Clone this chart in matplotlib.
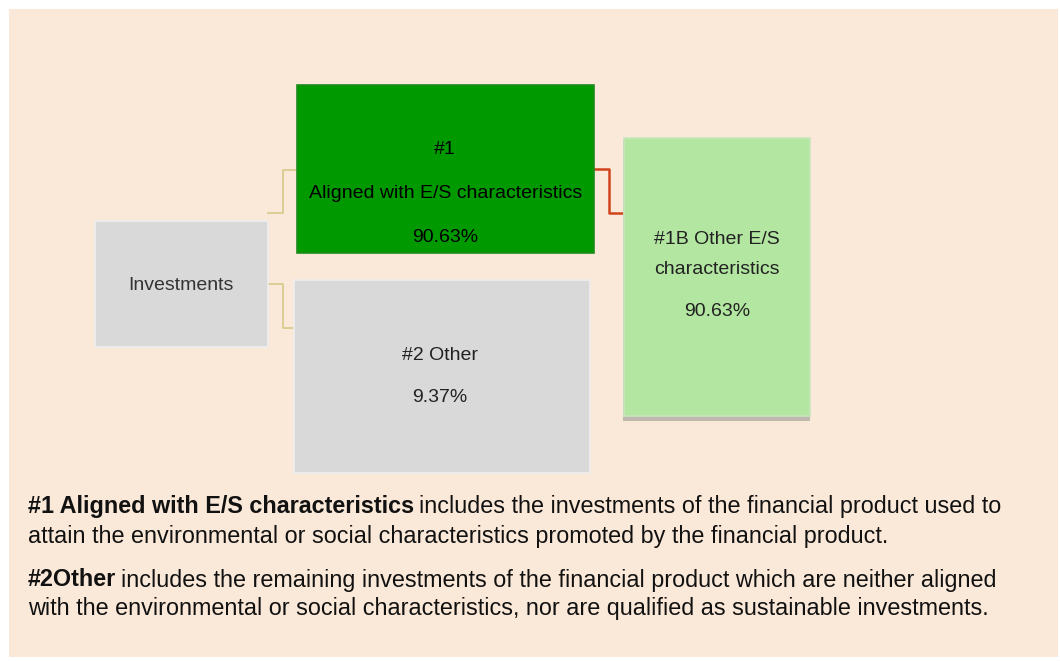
import matplotlib
matplotlib.use("Agg")
import matplotlib.pyplot as plt
from matplotlib.patches import Rectangle

# ---- data ----
node_names = ["Investments", "#1 Aligned with E/S characteristics", "#2 Other", "#1B Other E/S characteristics"]
node_values = [None, 90.63, 9.37, 90.63]
node_colors = ["#D9D9D9", "#009900", "#D9D9D9", "#B3E6A1"]
# boxes in pixel coords: x0, y0, x1, y1
node_boxes = [(95, 221, 268, 347), (297, 85, 594, 253), (294, 280, 590, 473), (624, 138, 810, 416)]

note1_bold = "#1 Aligned with E/S characteristics"
note1_rest = ["includes the investments of the financial product used to",
              "attain the environmental or social characteristics promoted by the financial product."]
note2_bold = "#2Other"
note2_rest = ["includes the remaining investments of the financial product which are neither aligned",
              "with the environmental or social characteristics, nor are qualified as sustainable investments."]

W, H = 1060, 661
fig = plt.figure(figsize=(W / 100, H / 100), dpi=100)
fig.patch.set_facecolor("white")
ax = fig.add_axes([0, 0, 1, 1])
ax.set_xlim(0, W)
ax.set_ylim(H, 0)
ax.axis("off")

ax.add_patch(Rectangle((9, 9), 1049, 648, facecolor="#FAE8D8", edgecolor="none", zorder=0))

box_font = ["Liberation Sans", "DejaVu Sans"]
note_font = ["Liberation Sans", "DejaVu Sans"]

# connectors
tan = "#D8CB8C"
ax.plot([268, 283, 283, 297], [213, 213, 170, 170], color=tan, lw=1.3, zorder=1)
ax.plot([268, 283, 283, 294], [284, 284, 328, 328], color=tan, lw=1.3, zorder=1)
ax.plot([594, 609, 609, 624], [169, 169, 213, 213], color="#D0441C", lw=1.8, zorder=1)

# shadow for #1B box
x0, y0, x1, y1 = node_boxes[3]
ax.add_patch(Rectangle((x0 - 1.5, y0 + 2), x1 - x0 + 1.5, y1 - y0 + 2.5, facecolor="#B0ACA4",
                       edgecolor="none", zorder=1.5, alpha=0.8))

edgecols = ["#EEEEEE", "#1E8B1E", "#EEEEEE", "#C8E6BC"]
for i, (col, box) in enumerate(zip(node_colors, node_boxes)):
    x0, y0, x1, y1 = box
    ax.add_patch(Rectangle((x0, y0), x1 - x0, y1 - y0, facecolor=col, edgecolor=edgecols[i],
                           lw=1.2, zorder=2))

# box texts
fs = 14
def bt(x, y, s, c="#222222"):
    ax.text(x, y, s, ha="center", va="center", fontsize=fs, family=box_font, color=c, zorder=3)

bt(181, 285, node_names[0], "#333333")
bt(445, 150, "#1", "black")
bt(446, 193, "Aligned with E/S characteristics", "black")
bt(445, 237, f"{node_values[1]:.2f}%", "black")
bt(440, 355, "#2 Other")
bt(440, 398, f"{node_values[2]:.2f}%")
bt(717, 240, "#1B Other E/S")
bt(717, 269, "characteristics")
bt(717, 312, f"{node_values[3]:.2f}%")

# notes
nfs = 16.8
fig.canvas.draw()
renderer = fig.canvas.get_renderer()

def bold_line(x, y, bold, rest):
    t = ax.text(x, y, bold, ha="left", va="center", fontsize=nfs, family=note_font,
                fontweight="bold", color="#111111", zorder=3)
    bb = t.get_window_extent(renderer=renderer)
    inv = ax.transData.inverted()
    xend = inv.transform((bb.x1, bb.y0))[0]
    ax.text(xend + 5, y, rest, ha="left", va="center", fontsize=nfs, family=note_font,
            color="#111111", zorder=3)

bold_line(28, 507, note1_bold, note1_rest[0])
ax.text(28, 537, note1_rest[1], ha="left", va="center", fontsize=nfs, family=note_font, color="#111111")
bold_line(28, 580, note2_bold, note2_rest[0])
ax.text(28, 609, note2_rest[1], ha="left", va="center", fontsize=nfs, family=note_font, color="#111111")

fig.savefig("out.png", dpi=100, facecolor=fig.get_facecolor())
